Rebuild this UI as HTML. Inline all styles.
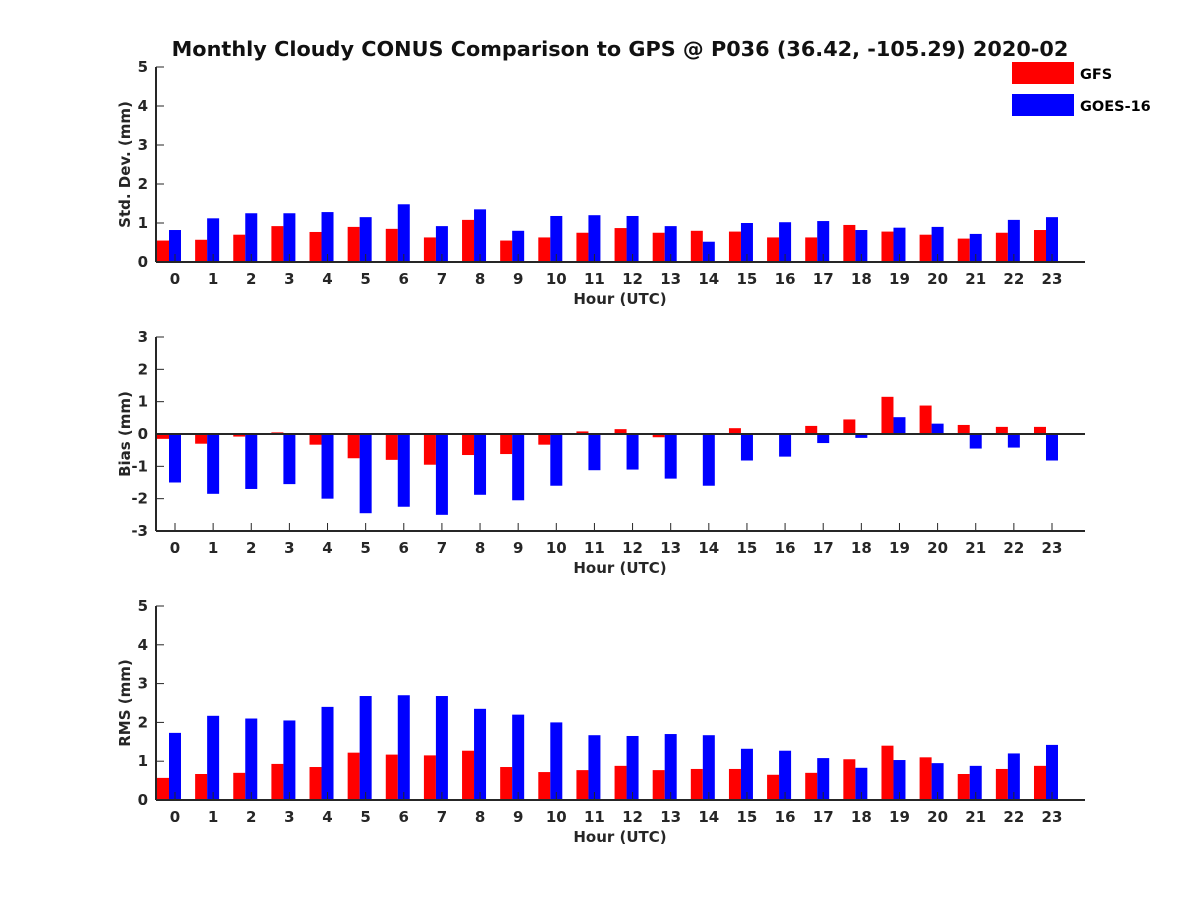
<!DOCTYPE html>
<html><head><meta charset="utf-8"><style>body{margin:0;background:#fff}svg{display:block;font-family:"DejaVu Sans","Liberation Sans",sans-serif;font-weight:bold}</style></head>
<body>
<svg id="c" width="1200" height="900">
<text x="620" y="56" text-anchor="middle" font-size="20.8" fill="#111">Monthly Cloudy CONUS Comparison to GPS @ P036 (36.42, -105.29) 2020-02</text>
<g>
<rect x="1012" y="62" width="62" height="22" fill="#f00"/>
<text x="1080" y="79" font-size="14.5">GFS</text>
<rect x="1012" y="94" width="62" height="22" fill="#00f"/>
<text x="1080" y="111" font-size="14.5">GOES-16</text>
</g>
</svg>
<script>
const hours=[0,1,2,3,4,5,6,7,8,9,10,11,12,13,14,15,16,17,18,19,20,21,22,23];
const stdGFS=[0.55,0.57,0.7,0.92,0.77,0.9,0.85,0.63,1.08,0.55,0.63,0.75,0.87,0.75,0.8,0.78,0.63,0.63,0.95,0.78,0.7,0.6,0.75,0.82];
const stdGOES=[0.82,1.12,1.25,1.25,1.28,1.15,1.48,0.92,1.35,0.8,1.18,1.2,1.18,0.92,0.52,1.0,1.02,1.05,0.82,0.88,0.9,0.72,1.08,1.15];
const biasGFS=[-0.15,-0.3,-0.08,0.05,-0.33,-0.75,-0.8,-0.95,-0.65,-0.62,-0.33,0.08,0.15,-0.1,0,0.18,0,0.25,0.45,1.15,0.88,0.28,0.22,0.22];
const biasGOES=[-1.5,-1.85,-1.7,-1.55,-2.0,-2.45,-2.25,-2.5,-1.88,-2.05,-1.6,-1.12,-1.1,-1.38,-1.6,-0.82,-0.7,-0.28,-0.12,0.52,0.32,-0.45,-0.42,-0.82];
const rmsGFS=[0.57,0.67,0.7,0.93,0.85,1.22,1.17,1.15,1.27,0.85,0.72,0.77,0.88,0.77,0.8,0.8,0.65,0.7,1.05,1.4,1.1,0.67,0.8,0.88];
const rmsGOES=[1.73,2.17,2.1,2.05,2.4,2.68,2.7,2.68,2.35,2.2,2.0,1.67,1.65,1.7,1.67,1.32,1.27,1.08,0.83,1.03,0.95,0.88,1.2,1.42];
const stdTicks=[0,1,2,3,4,5];
const biasTicks=[-3,-2,-1,0,1,2,3];
const rmsTicks=[0,1,2,3,4,5];
const NS="http://www.w3.org/2000/svg";
const svg=document.getElementById('c');
function mk(t,a,p){const e=document.createElementNS(NS,t);for(const k in a)e.setAttribute(k,a[k]);(p||svg).appendChild(e);return e;}
const X0=156,X1=1085;
function xs(h){return 169+h*38.13;}
function panel(name,top,bottom,ymin,ymax,ticks,gfs,goes,ylab){
  const g=mk('g',{});
  
  
  const ys=v=>bottom-(v-ymin)/(ymax-ymin)*(bottom-top);
  const z=ys(Math.max(ymin,0));
  hours.forEach((h,i)=>{
    const c=xs(h);
    [[gfs[i],c-12,'#f00',name+'-gfs-bar-'+h],[goes[i],c,'#00f',name+'-goes-bar-'+h]].forEach(([v,x,col,n])=>{
      const y=ys(v);
      const r=mk('rect',{x:x,y:Math.min(y,z),width:12,height:Math.abs(y-z),fill:col},g);
      
      
    });
    mk('line',{x1:c+6,x2:c+6,y1:bottom,y2:bottom-8,stroke:'#262626','stroke-width':1},g);
    const t=mk('text',{x:c+6,y:bottom+22,'text-anchor':'middle','font-size':15,fill:'#262626'},g);
    t.textContent=h;
    
    
  });
  ticks.forEach(v=>{
    const y=ys(v);
    mk('line',{x1:X0,x2:X0+8,y1:y,y2:y,stroke:'#262626','stroke-width':1},g);
    const t=mk('text',{x:X0-8,y:y+5,'text-anchor':'end','font-size':15,fill:'#262626'},g);
    t.textContent=v;
    
    
  });
  mk('line',{x1:X0,x2:X0,y1:top,y2:bottom,stroke:'#262626','stroke-width':2},g);
  mk('line',{x1:X0,x2:X1,y1:bottom,y2:bottom,stroke:'#262626','stroke-width':2},g);
  if(ymin<0) mk('line',{x1:X0,x2:X1,y1:z,y2:z,stroke:'#262626','stroke-width':2},g);
  const xl=mk('text',{x:620,y:bottom+42,'text-anchor':'middle','font-size':15,fill:'#262626'},g);
  xl.textContent='Hour (UTC)';
  
  
  const cy=(top+bottom)/2;
  const yl=mk('text',{x:130,y:cy,'text-anchor':'middle','font-size':15,fill:'#262626',transform:`rotate(-90 130 ${cy})`},g);
  yl.textContent=ylab;
  
  
}
panel('std',67,262,0,5,stdTicks,stdGFS,stdGOES,'Std. Dev. (mm)');
panel('bias',337,531,-3,3,biasTicks,biasGFS,biasGOES,'Bias (mm)');
panel('rms',606,800,0,5,rmsTicks,rmsGFS,rmsGOES,'RMS (mm)');
</script>
</body></html>
